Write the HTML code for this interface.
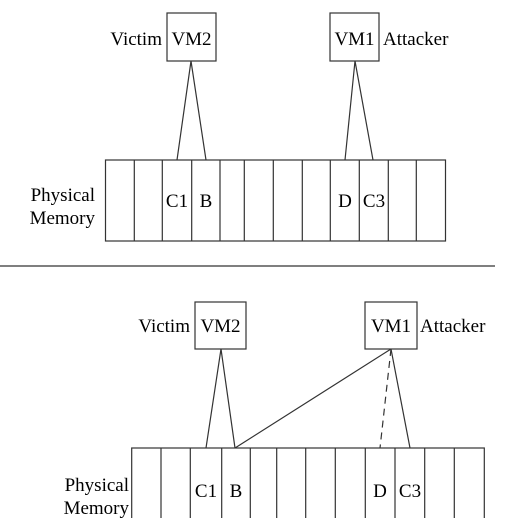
<!DOCTYPE html>
<html><head><style>body{margin:0;background:#fff}</style></head><body>
<svg width="517" height="518" viewBox="0 0 517 518" xmlns="http://www.w3.org/2000/svg" font-family="Liberation Serif, serif" font-size="19" fill="#000">
<g stroke="#333" stroke-width="1.2" fill="none">
<rect x="167" y="13" width="49" height="48"/>
<rect x="330" y="13" width="49" height="48"/>
<rect x="105.5" y="160" width="340" height="81"/>
<path d="M134.3 160V241M162.3 160V241M191.7 160V241M220 160V241M244.3 160V241M273.3 160V241M302.3 160V241M330.3 160V241M359.3 160V241M388.3 160V241M416.3 160V241"/>
<path d="M191 61L177 160M191 61L206 160M355 61L345 160M355 61L373 160"/>
<line x1="0" y1="266" x2="495" y2="266"/>
<rect x="195" y="302" width="51" height="47"/>
<rect x="365" y="302" width="52" height="47"/>
<rect x="131.7" y="448" width="352.6" height="80"/>
<path d="M161 448V518M190.3 448V518M221.7 448V518M250.3 448V518M276.7 448V518M305.7 448V518M335.3 448V518M365.3 448V518M395 448V518M424.7 448V518M454.3 448V518"/>
<path d="M221 349L206 448M221 349L235 448M391 349L235 448M391 349L410 448"/>
<path d="M391 349L380 448" stroke-dasharray="7,5"/>
</g>
<g stroke="none">
<text x="162" y="45" text-anchor="end">Victim</text>
<text x="191.5" y="45" text-anchor="middle">VM2</text>
<text x="354.5" y="45" text-anchor="middle">VM1</text>
<text x="383" y="45">Attacker</text>
<text x="95" y="201" text-anchor="end">Physical</text>
<text x="95" y="224" text-anchor="end">Memory</text>
<text x="177" y="207" text-anchor="middle">C1</text>
<text x="206" y="207" text-anchor="middle">B</text>
<text x="345" y="207" text-anchor="middle">D</text>
<text x="374" y="207" text-anchor="middle">C3</text>
<text x="190" y="332" text-anchor="end">Victim</text>
<text x="220.5" y="332" text-anchor="middle">VM2</text>
<text x="391" y="332" text-anchor="middle">VM1</text>
<text x="420" y="332">Attacker</text>
<text x="129" y="491" text-anchor="end">Physical</text>
<text x="129" y="514" text-anchor="end">Memory</text>
<text x="206" y="497" text-anchor="middle">C1</text>
<text x="236" y="497" text-anchor="middle">B</text>
<text x="380" y="497" text-anchor="middle">D</text>
<text x="410" y="497" text-anchor="middle">C3</text>
</g>
</svg>
</body></html>
